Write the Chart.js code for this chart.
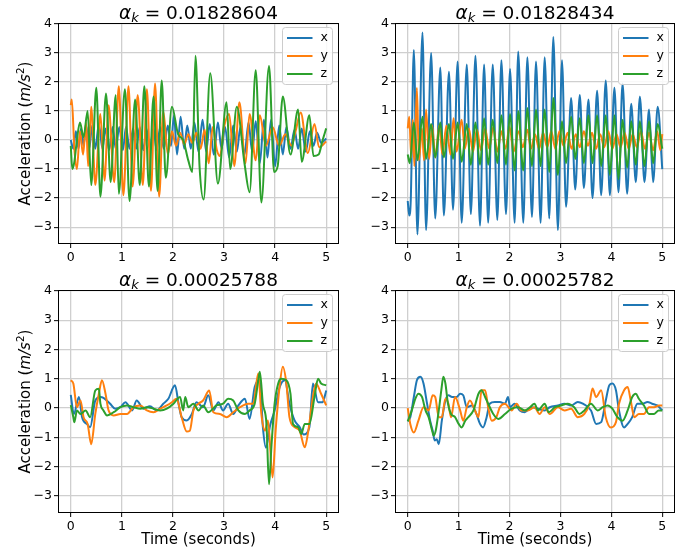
<!DOCTYPE html>
<html><head><meta charset="utf-8">
<script src="https://cdn.jsdelivr.net/npm/chart.js@4/dist/chart.umd.min.js"></script>
<style>
html,body{margin:0;padding:0;background:#fff;}
#wrap{position:relative;width:691px;height:550px;background:#fff;}
canvas{position:absolute;left:0;top:0;}
</style></head><body>
<div id="wrap">
<canvas id="c0" width="691" height="550"></canvas>
<canvas id="c1" width="691" height="550"></canvas>
<canvas id="c2" width="691" height="550"></canvas>
<canvas id="c3" width="691" height="550"></canvas>
</div>
<script>
// ---------- data ----------
const X_TICKS = [0, 1, 2, 3, 4, 5];
const Y_TICKS = [-3, -2, -1, 0, 1, 2, 3, 4];
const SERIES_NAMES = ['x', 'y', 'z'];
const TITLES = ['0.01828604', '0.01828434', '0.00025788', '0.00025782'];

// top-left  (alpha_k = 0.01828604) : [time, acceleration]
const TL_X = [[0,0],[0.05,-0.3],[0.1,0.3],[0.15,-0.3],[0.2,0.4],[0.25,-0.2],[0.3,0.5],[0.36,-0.3],[0.42,0.5],[0.48,-0.3],[0.55,0.55],[0.62,-0.3],[0.68,0.4],[0.75,-0.35],[0.82,0.45],[0.88,-0.3],[0.95,0.45],[1.02,-0.35],[1.08,0.45],[1.15,-0.3],[1.22,0.4],[1.28,-0.3],[1.35,0.45],[1.42,-0.35],[1.48,0.4],[1.55,-0.3],[1.62,0.4],[1.68,-0.35],[1.75,0.45],[1.82,-0.3],[1.9,0.5],[1.96,-0.2],[2.02,0.85],[2.08,-0.5],[2.15,0.8],[2.22,-0.3],[2.28,0.5],[2.35,-0.3],[2.42,0.6],[2.5,-0.4],[2.58,0.7],[2.65,-0.4],[2.72,0.55],[2.8,-0.5],[2.88,0.6],[2.95,-0.3],[3.02,0.45],[3.1,-0.6],[3.18,0.5],[3.25,-0.4],[3.32,0.45],[3.4,-0.5],[3.48,0.6],[3.55,-0.4],[3.62,0.65],[3.7,-0.8],[3.78,0.7],[3.85,-0.6],[3.92,0.7],[4.0,-0.9],[4.08,0.5],[4.15,-0.5],[4.22,0.45],[4.3,-0.3],[4.38,0.35],[4.45,-0.3],[4.52,0.4],[4.6,-0.4],[4.68,0.3],[4.75,-0.2],[4.82,0.25],[4.9,-0.1],[5.0,0.05]];
const TL_Y = [[0,1.2],[0.02,1.4],[0.07,-0.3],[0.12,-1.0],[0.18,0.3],[0.24,-0.5],[0.3,0.6],[0.34,-0.9],[0.4,1.15],[0.48,-1.55],[0.58,0.9],[0.66,-1.4],[0.74,1.2],[0.85,-1.45],[0.94,1.85],[1.03,-1.9],[1.13,1.85],[1.21,-1.6],[1.31,1.55],[1.41,-1.55],[1.49,1.75],[1.57,-1.75],[1.65,1.95],[1.73,-1.95],[1.81,1.0],[1.9,-0.5],[1.98,0.3],[2.06,-0.2],[2.14,0.25],[2.22,-0.15],[2.3,0.2],[2.38,-0.1],[2.46,0.25],[2.54,-0.3],[2.62,0.35],[2.7,-0.8],[2.78,0.45],[2.86,-0.35],[2.92,-0.55],[3.0,0.45],[3.1,0.9],[3.2,-0.9],[3.3,1.3],[3.42,-0.8],[3.5,0.9],[3.62,-0.7],[3.7,0.85],[3.82,-0.2],[3.95,0.45],[4.08,-0.2],[4.2,0.2],[4.32,-0.2],[4.4,0.3],[4.5,0.95],[4.64,-0.45],[4.77,0.55],[4.86,-0.25],[5.0,-0.05]];
const TL_Z = [[0,-0.2],[0.03,-1.0],[0.07,-0.75],[0.12,0.0],[0.18,0.6],[0.25,0.1],[0.33,1.0],[0.4,-1.55],[0.5,1.8],[0.58,-1.95],[0.69,1.6],[0.78,-1.45],[0.88,1.55],[0.94,-1.85],[1.06,1.75],[1.15,-2.1],[1.26,1.4],[1.35,-1.55],[1.44,1.85],[1.53,-1.6],[1.62,1.5],[1.7,-1.75],[1.78,2.05],[1.86,-1.3],[1.98,1.15],[2.1,0.2],[2.2,0.0],[2.3,-0.7],[2.38,-1.1],[2.44,2.9],[2.52,-0.9],[2.6,-2.05],[2.73,2.3],[2.88,-1.5],[3.05,1.3],[3.12,-1.0],[3.25,1.15],[3.4,-0.8],[3.5,-1.8],[3.62,2.4],[3.73,-2.15],[3.88,2.55],[3.98,-1.1],[4.05,-0.9],[4.15,1.5],[4.3,-0.5],[4.45,1.05],[4.52,-0.75],[4.67,0.85],[4.75,-0.55],[4.85,-0.5],[4.93,0.0],[5.0,0.4]];

// top-right (alpha_k = 0.01828434)
const TR_X = [[0,-2.1],[0.03,-2.6],[0.06,-2.05],[0.12,3.1],[0.19,-3.25],[0.29,3.7],[0.36,-3.1],[0.46,3.0],[0.54,-2.7],[0.64,2.5],[0.71,-2.6],[0.81,2.35],[0.89,-2.4],[0.98,2.7],[1.06,-2.85],[1.16,2.6],[1.24,-2.55],[1.33,2.9],[1.42,-2.95],[1.50,2.6],[1.58,-2.85],[1.67,2.6],[1.76,-2.75],[1.84,2.75],[1.93,-2.55],[2.01,2.45],[2.10,-2.85],[2.17,3.05],[2.27,-2.85],[2.35,2.85],[2.44,-2.65],[2.52,2.7],[2.61,-2.85],[2.69,2.85],[2.78,-2.7],[2.86,3.55],[2.95,-3.1],[3.03,2.75],[3.11,-2.3],[3.21,1.45],[3.29,-1.7],[3.38,1.55],[3.46,-1.65],[3.55,1.4],[3.63,-2.0],[3.72,1.7],[3.80,-1.9],[3.89,2.05],[3.97,-1.9],[4.06,1.8],[4.14,-1.8],[4.22,1.95],[4.31,-1.85],[4.39,1.25],[4.48,-1.45],[4.56,1.5],[4.65,-1.45],[4.74,1.05],[4.82,-1.45],[4.91,1.15],[5.0,-1.0]];
const TR_Y = [[0,0.4],[0.03,0.8],[0.07,-0.6],[0.1,0.7],[0.13,-0.9],[0.18,1.8],[0.22,-0.7],[0.28,0.4],[0.32,-0.7],[0.36,1.05],[0.42,-0.65],[0.48,0.5],[0.54,-0.6],[0.62,0.5],[0.68,-0.5],[0.76,0.5],[0.84,-0.5],[0.9,0.75],[0.96,-0.4],[1.06,0.7],[1.12,-0.3],[1.2,0.4],[1.28,-0.4],[1.36,0.35],[1.44,-0.35],[1.52,0.4],[1.6,-0.3],[1.68,0.45],[1.76,-0.4],[1.84,0.3],[1.92,-0.3],[2.0,0.45],[2.08,-0.4],[2.18,0.3],[2.26,-0.25],[2.35,0.35],[2.42,-0.3],[2.5,0.2],[2.58,-0.3],[2.66,0.25],[2.74,-0.25],[2.82,0.3],[2.9,-0.3],[2.98,0.3],[3.06,-0.2],[3.14,0.25],[3.22,-0.3],[3.3,0.2],[3.38,-0.25],[3.46,0.3],[3.54,-0.2],[3.62,0.25],[3.7,-0.3],[3.78,0.2],[3.86,-0.25],[3.94,0.3],[4.02,-0.3],[4.1,0.2],[4.18,-0.25],[4.26,0.25],[4.34,-0.3],[4.42,0.2],[4.5,-0.25],[4.58,0.3],[4.66,-0.3],[4.74,0.25],[4.82,-0.35],[4.9,0.3],[4.96,-0.35],[5.0,0.2]];
const TR_Z = [[0,-0.5],[0.04,-0.8],[0.12,0.6],[0.19,-0.7],[0.29,0.8],[0.36,-0.65],[0.46,0.55],[0.54,-0.6],[0.64,0.6],[0.71,-0.6],[0.81,0.55],[0.89,-0.65],[0.98,0.6],[1.06,-0.75],[1.16,0.55],[1.24,-0.85],[1.33,0.6],[1.42,-0.85],[1.50,0.75],[1.58,-0.85],[1.67,0.7],[1.76,-0.8],[1.84,0.85],[1.93,-0.85],[2.01,0.9],[2.10,-1.05],[2.17,1.0],[2.27,-1.05],[2.35,1.1],[2.44,-0.9],[2.52,1.05],[2.61,-0.9],[2.69,1.05],[2.78,-1.1],[2.86,1.45],[2.95,-1.2],[3.03,0.65],[3.11,-0.8],[3.21,0.8],[3.29,-0.65],[3.38,0.75],[3.46,-0.8],[3.55,0.85],[3.63,-0.8],[3.72,0.85],[3.80,-0.9],[3.89,0.85],[3.97,-1.2],[4.06,0.85],[4.14,-1.35],[4.22,0.7],[4.31,-0.95],[4.39,0.65],[4.48,-0.85],[4.56,0.65],[4.65,-0.9],[4.74,0.65],[4.82,-0.8],[4.91,0.55],[5.0,-0.3]];

// bottom-left (alpha_k = 0.00025788)
const BL_X = [[0,0.45],[0.06,-0.2],[0.16,0.38],[0.22,-0.3],[0.32,-0.55],[0.38,-0.65],[0.48,0.26],[0.58,0.38],[0.64,0.35],[0.77,0.15],[0.87,-0.02],[0.97,0.03],[1.07,0.2],[1.2,-0.08],[1.29,0.26],[1.42,-0.02],[1.55,0.06],[1.68,-0.08],[1.81,0.15],[1.91,0.32],[2.04,0.78],[2.11,0.15],[2.17,-0.31],[2.27,-0.42],[2.37,-0.2],[2.46,0.2],[2.59,0.03],[2.69,0.44],[2.79,-0.08],[2.89,0.2],[2.98,-0.08],[3.08,0.15],[3.18,-0.2],[3.28,0.09],[3.41,0.32],[3.5,-0.37],[3.6,0.72],[3.7,0.95],[3.76,-0.65],[3.82,-1.35],[3.9,-0.6],[3.99,-0.08],[4.09,0.72],[4.19,0.95],[4.28,0.15],[4.38,-0.42],[4.48,-0.65],[4.56,-0.9],[4.67,-0.65],[4.74,0.84],[4.84,0.2],[4.93,0.2],[5.0,0.6]];
const BL_Y = [[0,0.95],[0.05,0.84],[0.12,0.03],[0.19,0.26],[0.25,-0.31],[0.33,-0.54],[0.4,-1.23],[0.48,-0.2],[0.55,0.49],[0.61,0.95],[0.68,0.49],[0.74,-0.08],[0.84,-0.25],[0.97,-0.2],[1.1,-0.2],[1.23,0.03],[1.36,0.09],[1.49,-0.08],[1.62,-0.14],[1.75,-0.02],[1.88,0.09],[1.98,0.2],[2.07,0.32],[2.17,-0.31],[2.27,-0.8],[2.33,-0.77],[2.4,-0.08],[2.5,0.15],[2.59,0.26],[2.71,0.6],[2.79,-0.14],[2.92,-0.2],[3.05,-0.31],[3.18,-0.14],[3.31,0.03],[3.47,0.15],[3.57,0.15],[3.67,1.18],[3.73,-0.2],[3.8,-0.77],[3.86,-0.42],[3.95,-2.37],[4.01,-0.77],[4.09,0.78],[4.15,1.41],[4.22,0.84],[4.28,-0.31],[4.38,-0.65],[4.48,-0.77],[4.58,-1.34],[4.64,-0.88],[4.74,0.38],[4.8,0.84],[4.9,0.49],[5.0,0.09]];
const BL_Z = [[0,0.1],[0.05,-0.31],[0.07,-0.48],[0.12,-0.08],[0.19,-0.2],[0.29,-0.08],[0.38,-0.31],[0.48,0.6],[0.55,0.66],[0.58,0.15],[0.64,-0.08],[0.71,-0.25],[0.84,-0.14],[0.97,0.03],[1.1,0.09],[1.23,0.03],[1.36,-0.02],[1.49,0.03],[1.62,-0.02],[1.75,-0.08],[1.88,-0.02],[2.01,0.15],[2.14,0.38],[2.2,-0.08],[2.24,0.38],[2.3,0.03],[2.4,0.15],[2.5,-0.08],[2.59,0.09],[2.69,-0.14],[2.85,0.09],[2.98,0.15],[3.08,0.32],[3.18,0.26],[3.28,-0.08],[3.41,-0.2],[3.5,-0.08],[3.6,0.15],[3.67,0.95],[3.7,1.24],[3.76,0.15],[3.83,-0.54],[3.88,-2.6],[3.93,-1.23],[3.99,0.15],[4.06,0.84],[4.12,1.0],[4.22,0.95],[4.3,0.49],[4.35,-0.54],[4.45,-0.65],[4.51,-0.88],[4.58,-0.54],[4.67,-0.54],[4.77,0.38],[4.84,1.0],[4.9,0.84],[5.0,0.78]];

// bottom-right (alpha_k = 0.00025782)
const BR_X = [[0,-0.45],[0.05,-0.31],[0.12,0.38],[0.18,0.95],[0.25,1.07],[0.31,0.84],[0.38,0.15],[0.44,-0.43],[0.49,-0.77],[0.53,-1.11],[0.57,-1.06],[0.61,-1.23],[0.67,-0.43],[0.74,0.26],[0.8,0.44],[0.87,0.38],[0.96,0.38],[1.03,0.49],[1.09,0.44],[1.16,0.03],[1.26,0.09],[1.35,-0.2],[1.42,-0.54],[1.48,-0.66],[1.55,-0.31],[1.61,0.15],[1.71,0.21],[1.81,0.21],[1.91,0.15],[1.97,0.38],[2.01,0.03],[2.1,0.15],[2.2,-0.08],[2.3,-0.14],[2.43,0.03],[2.56,-0.02],[2.69,-0.08],[2.79,0.03],[2.95,0.09],[3.08,0.15],[3.21,0.09],[3.34,0.21],[3.44,0.15],[3.6,-0.08],[3.7,-0.54],[3.8,-0.48],[3.89,0.26],[3.96,0.78],[4.02,0.84],[4.09,0.61],[4.15,-0.08],[4.25,-0.66],[4.32,-0.54],[4.41,-0.31],[4.51,0.15],[4.61,0.15],[4.71,0.21],[4.8,0.15],[4.9,0.09],[5.0,-0.08]];
const BR_Y = [[0,0],[0.05,-0.54],[0.12,-0.83],[0.21,-0.43],[0.31,0.03],[0.41,-0.08],[0.49,0.44],[0.54,0.38],[0.61,-0.31],[0.67,-0.31],[0.74,0.32],[0.8,0.15],[0.85,-0.31],[0.93,0.38],[1.03,-0.08],[1.09,-0.43],[1.16,0.03],[1.22,0.26],[1.32,-0.08],[1.39,-0.31],[1.45,0.61],[1.52,0.61],[1.58,0.03],[1.65,-0.43],[1.74,-0.31],[1.81,0.03],[1.91,0.15],[2.04,-0.08],[2.14,0.15],[2.23,-0.08],[2.36,-0.08],[2.49,0.03],[2.59,-0.2],[2.69,0.03],[2.79,-0.2],[2.95,0.03],[3.08,-0.08],[3.21,-0.02],[3.34,-0.31],[3.47,-0.2],[3.57,0.15],[3.63,0.67],[3.7,0.38],[3.8,0.61],[3.89,-0.31],[3.99,-0.66],[4.09,-0.48],[4.15,0.15],[4.25,0.61],[4.32,0.72],[4.38,0.26],[4.45,-0.31],[4.54,-0.2],[4.64,-0.2],[4.74,0.03],[4.84,0.03],[4.93,0.09],[5.0,0.09]];
const BR_Z = [[0,-0.45],[0.08,-0.08],[0.15,0.32],[0.21,0.49],[0.28,0.38],[0.35,-0.08],[0.41,-0.31],[0.48,-0.77],[0.51,-0.94],[0.55,-0.77],[0.61,-0.08],[0.66,0.61],[0.7,1.07],[0.74,0.84],[0.79,0.15],[0.85,-0.2],[0.93,-0.31],[1.0,-0.54],[1.06,-0.66],[1.13,-0.43],[1.19,-0.31],[1.29,-0.08],[1.39,0.49],[1.45,0.61],[1.52,0.38],[1.58,0.15],[1.68,-0.2],[1.78,-0.37],[1.91,-0.2],[2.04,-0.02],[2.17,0.03],[2.3,-0.08],[2.4,0.03],[2.49,0.15],[2.56,-0.08],[2.69,0.15],[2.77,-0.14],[2.89,0.03],[3.01,0.09],[3.14,0.15],[3.27,0.03],[3.37,-0.2],[3.47,-0.08],[3.6,0.15],[3.73,-0.08],[3.83,0.03],[3.93,0.09],[4.02,-0.02],[4.12,-0.31],[4.22,-0.43],[4.32,-0.08],[4.41,0.38],[4.48,0.49],[4.54,0.32],[4.64,0.09],[4.74,-0.2],[4.84,-0.2],[4.93,-0.08],[5.0,-0.08]];

// ---------- styling / layout ----------
const COLORS = ['#1f77b4', '#ff7f0e', '#2ca02c'];
const FONT = '"DejaVu Sans", "Liberation Sans", sans-serif';
const YW = 32, XH = 22;
const PANELS = [
  {id:'c0', title:TITLES[0], series:[TL_X, TL_Y, TL_Z], area:[58, 23, 339, 244], ylab:true,  xlab:false},
  {id:'c1', title:TITLES[1], series:[TR_X, TR_Y, TR_Z], area:[395, 23, 675, 244], ylab:false, xlab:false},
  {id:'c2', title:TITLES[2], series:[BL_X, BL_Y, BL_Z], area:[58, 290, 339, 513], ylab:true,  xlab:true},
  {id:'c3', title:TITLES[3], series:[BR_X, BR_Y, BR_Z], area:[395, 290, 675, 513], ylab:false, xlab:true}
];

function fmt(v){ return String(v).replace('-', '\u2212'); }

const deco = {
  id: 'deco',
  afterDatasetsDraw(chart, args, o){
    const ctx = chart.ctx, a = chart.chartArea;
    ctx.save();
    // spines
    ctx.strokeStyle = '#000'; ctx.lineWidth = 1;
    ctx.strokeRect(Math.round(a.left) + 0.5, Math.round(a.top) + 0.5,
                   Math.round(a.right - a.left) - 1, Math.round(a.bottom - a.top) - 1);
    // legend
    const bw = 50, bh = 57, bx = a.right - 6.5 - bw, by = a.top + 4.5;
    ctx.beginPath();
    ctx.roundRect(bx, by, bw, bh, 3);
    ctx.fillStyle = 'rgba(255,255,255,0.85)'; ctx.fill();
    ctx.strokeStyle = '#cccccc'; ctx.lineWidth = 1; ctx.stroke();
    chart.data.datasets.forEach((ds, i) => {
      const yy = by + 10.5 + i * 18;
      ctx.beginPath(); ctx.moveTo(bx + 4.5, yy); ctx.lineTo(bx + 30, yy);
      ctx.strokeStyle = ds.borderColor; ctx.lineWidth = 2; ctx.stroke();
      ctx.fillStyle = '#000'; ctx.font = '12.5px ' + FONT;
      ctx.textAlign = 'left'; ctx.textBaseline = 'middle';
      ctx.fillText(ds.label, bx + 38, yy);
    });
    // title: alpha_k = value
    const cx = (a.left + a.right) / 2, base = a.top - 4.5;
    const f1 = 'italic 18.5px ' + FONT, f2 = 'italic 13px ' + FONT, f3 = '18.5px ' + FONT;
    const s3 = ' = ' + o.title;
    ctx.font = f1; const w1 = ctx.measureText('\u03B1').width;
    ctx.font = f2; const w2 = ctx.measureText('k').width;
    ctx.font = f3; const w3 = ctx.measureText(s3).width;
    let x = cx - (w1 + w2 + w3) / 2;
    ctx.textAlign = 'left'; ctx.textBaseline = 'alphabetic'; ctx.fillStyle = '#000';
    ctx.font = f1; ctx.fillText('\u03B1', x, base); x += w1;
    ctx.font = f2; ctx.fillText('k', x, base + 3.5); x += w2;
    ctx.font = f3; ctx.fillText(s3, x, base);
    // y label
    if (o.ylab){
      const parts = [['Acceleration (', '15px ' + FONT, 0], ['m/s', 'italic 15px ' + FONT, 0],
                     ['2', '10.5px ' + FONT, -6], [')', '15px ' + FONT, 0]];
      let tw = 0; parts.forEach(p => { ctx.font = p[1]; p.push(ctx.measureText(p[0]).width); tw += p[3]; });
      ctx.save();
      ctx.translate(29.5, (a.top + a.bottom) / 2);
      ctx.rotate(-Math.PI / 2);
      let px = -tw / 2;
      parts.forEach(p => { ctx.font = p[1]; ctx.fillText(p[0], px, p[2]); px += p[3]; });
      ctx.restore();
    }
    if (o.xlab){
      ctx.font = '15px ' + FONT; ctx.textAlign = 'center';
      ctx.fillText('Time (seconds)', cx, 543.5);
    }
    ctx.restore();
  }
};

PANELS.forEach(p => {
  const el = document.getElementById(p.id);
  new Chart(el, {
    type: 'line',
    data: {
      datasets: p.series.map((s, i) => ({
        label: SERIES_NAMES[i],
        data: s.map(q => ({x: q[0], y: q[1]})),
        borderColor: COLORS[i], backgroundColor: COLORS[i],
        borderWidth: 2, pointRadius: 0, fill: false,
        cubicInterpolationMode: 'monotone', order: 3 - i
      }))
    },
    options: {
      responsive: false, animation: false, events: [],
      layout: {padding: {left: p.area[0] - YW, top: p.area[1], right: 691 - p.area[2], bottom: 550 - p.area[3] - XH}},
      plugins: {legend: {display: false}, title: {display: false}, tooltip: {enabled: false},
                deco: {title: p.title, ylab: p.ylab, xlab: p.xlab}},
      scales: {
        x: {
          type: 'linear', min: -0.25, max: 5.25,
          afterBuildTicks: s => { s.ticks = X_TICKS.map(v => ({value: v})); },
          afterFit: s => { s.height = XH; },
          grid: {color: '#cfcfcf', lineWidth: 1.3, tickColor: '#000', tickLength: 4, tickWidth: 1},
          border: {display: false},
          ticks: {color: '#000', font: {family: FONT, size: 12.5}, padding: 2, maxRotation: 0, autoSkip: false, callback: v => fmt(v)}
        },
        y: {
          type: 'linear', min: -3.58, max: 4.03,
          afterBuildTicks: s => { s.ticks = Y_TICKS.map(v => ({value: v})); },
          afterFit: s => { s.width = YW; },
          grid: {color: '#cfcfcf', lineWidth: 1.3, tickColor: '#000', tickLength: 4, tickWidth: 1},
          border: {display: false},
          ticks: {color: '#000', font: {family: FONT, size: 12.5}, padding: 2, autoSkip: false, callback: v => fmt(v)}
        }
      }
    },
    plugins: [deco]
  });
});
</script>
</body></html>
